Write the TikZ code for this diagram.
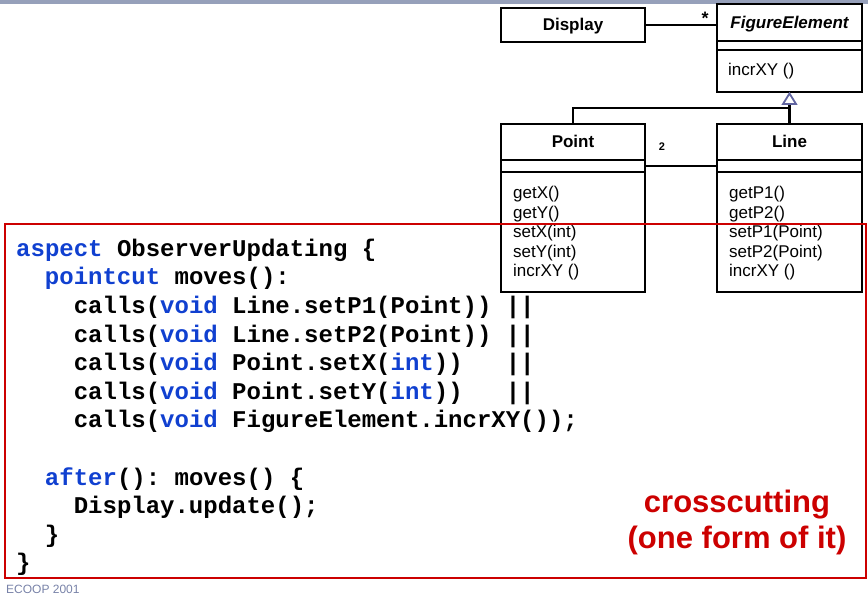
\documentclass[tikz,border=0pt]{standalone}
\usepackage{fontspec}
\setmainfont{Liberation Sans}
\setmonofont{Liberation Mono}
\usepackage{xcolor}
\usetikzlibrary{positioning, calc}

\definecolor{kwblue}{RGB}{16,64,208}
\definecolor{boxred}{RGB}{204,0,0}
\definecolor{barblue}{RGB}{150,160,186}
\definecolor{footgray}{RGB}{120,130,168}
\definecolor{triblue}{RGB}{96,100,160}
\newcommand{\kw}[1]{\textcolor{kwblue}{#1}}

\begin{document}
\begin{tikzpicture}[
  x=1pt, y=-1pt,
  classbox/.style={draw, line width=2.2pt, fill=white, inner sep=0pt, outer sep=0pt, anchor=north west},
  namebox/.style={classbox, text height=12pt, text depth=0pt, font=\fontsize{17}{20}\selectfont\bfseries},
  optext/.style={anchor=base west, inner sep=0pt, font=\fontsize{17}{20}\selectfont},
  umlline/.style={line width=2.2pt},
  code/.style={anchor=base west, inner sep=0pt, font=\fontsize{24}{28}\selectfont\ttfamily\bfseries},
  redtext/.style={anchor=base, inner sep=0pt, text=boxred, font=\fontsize{31}{36}\selectfont\bfseries}
]
\useasboundingbox (0,0) rectangle (868,596);

% title bar
\fill[barblue] (0,0) rectangle (868,4.5);

% --- class diagram ---
\node[namebox, minimum width=144pt, minimum height=34pt] (disp) at (501,8) {Display};

\node[namebox, minimum width=145pt, minimum height=37pt, font=\fontsize{17}{20}\selectfont\bfseries\itshape] (fig) at (717,4) {FigureElement};
\node[classbox, minimum width=145pt, minimum height=9pt] (fig-att) at (fig.south west) {};
\node[classbox, minimum width=145pt, minimum height=42pt] (fig-ops) at (fig-att.south west) {};
\node[optext] (fig-op1) at (728,76) {incrXY ()};

\node[namebox, minimum width=144pt, minimum height=36pt] (pt) at (501,124) {Point};
\node[classbox, minimum width=144pt, minimum height=12pt] (pt-att) at (pt.south west) {};
\node[classbox, minimum width=144pt, minimum height=120pt] (pt-ops) at (pt-att.south west) {};
\foreach \i/\t in {1/getX(), 2/getY(), 3/setX(int), 4/setY(int), 5/incrXY ()}{
  \node[optext] (pt-op\i) at (513,{198.5+19.6*(\i-1)}) {\t};
}

\node[namebox, minimum width=145pt, minimum height=36pt] (ln) at (717,124) {Line};
\node[classbox, minimum width=145pt, minimum height=12pt] (ln-att) at (ln.south west) {};
\node[classbox, minimum width=145pt, minimum height=120pt] (ln-ops) at (ln-att.south west) {};
\foreach \i/\t in {1/getP1(), 2/getP2(), 3/setP1(Point), 4/setP2(Point), 5/incrXY ()}{
  \node[optext] (ln-op\i) at (729,{198.5+19.6*(\i-1)}) {\t};
}

% associations
\draw[umlline] (disp.east) -- (disp.east -| fig.west);
\node[inner sep=0pt, font=\fontsize{18}{18}\selectfont\bfseries] (star) at (705,18) {*};
\draw[umlline] (pt-att.east) -- (ln-att.west);
\node[inner sep=0pt, font=\fontsize{11}{11}\selectfont\bfseries] (mult) at (662,147) {2};

% generalisation
\coordinate (tribase) at (789.5,104);
\coordinate (joint) at (789.5,108.3);
\draw[umlline] (ln.north) -- (tribase);
\draw[umlline] (pt.north) |- (joint);
\draw[triblue, line width=1.8pt, fill=white, line join=miter] ([yshift=-1.5pt]fig-ops.south) -- ++(6.5,10.5) -- ++(-13,0) -- cycle;

% --- aspect code ---
\foreach \r/\ind/\txt in {
  1/0/{\kw{aspect} ObserverUpdating \{},
  2/2/{\kw{pointcut} moves():},
  3/4/{calls(\kw{void} Line.setP1(Point))},
  4/4/{calls(\kw{void} Line.setP2(Point))},
  5/4/{calls(\kw{void} Point.setX(\kw{int}))},
  6/4/{calls(\kw{void} Point.setY(\kw{int}))},
  7/4/{calls(\kw{void} FigureElement.incrXY());},
  9/2/{\kw{after}(): moves() \{},
  10/4/{Display.update();},
  11/2/{\}},
  12/0/{\}}}{
  \node[code] (code\r) at ({16+14.4*\ind},{256.2+28.6*(\r-1)}) {\txt};
}
\foreach \r in {3,...,6}{
  \node[code] (or\r) at ({16+14.4*34},{256.2+28.6*(\r-1)}) {||};
}

% frame round the aspect
\draw[boxred, line width=2.8pt] (5,224) rectangle (866,578);

\node[redtext] (cc1) at (737,512) {crosscutting};
\node[redtext] (cc2) at (737,548) {(one form of it)};

% footer
\node[anchor=base west, inner sep=0pt, text=footgray, font=\fontsize{12}{12}\selectfont] (foot) at (6,593) {ECOOP 2001};

\end{tikzpicture}
\end{document}
